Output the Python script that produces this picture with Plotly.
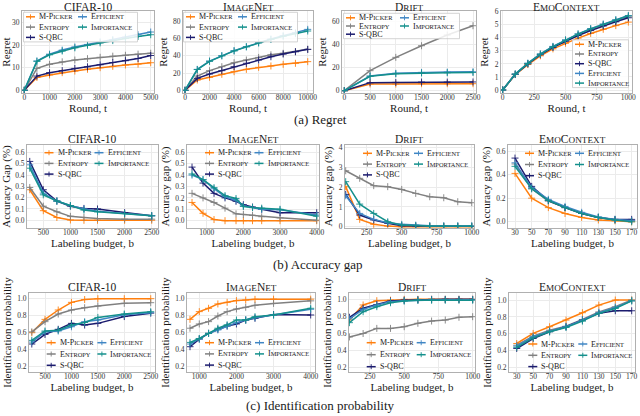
"""Active model selection results: regret, accuracy gap and identification probability."""

import plotly.graph_objects as go

W, H = 640, 416

METHODS = ["M-Picker", "Entropy", "S-QBC", "Efficient", "Importance"]
COLORS = {
    "M-Picker": "#ff7f0e",
    "Entropy": "#808080",
    "S-QBC": "#1b1b6e",
    "Efficient": "#3f86c4",
    "Importance": "#14908c",
}

# ---- (a) Regret ----
cifar_rounds = [0, 500, 1000, 1500, 2000, 2500, 3000, 3500, 4000, 4500, 5000]
cifar_regret_mpicker = [0, 5.7, 6.8, 7.8, 8.5, 9.3, 10.0, 10.6, 11.2, 11.6, 12.2]
cifar_regret_entropy = [0, 9.7, 11.5, 12.6, 13.4, 14.0, 14.6, 15.1, 15.5, 16.0, 16.4]
cifar_regret_sqbc = [0, 6.3, 7.8, 8.7, 9.7, 10.4, 11.3, 12.3, 13.1, 14.1, 15.4]
cifar_regret_efficient = [0, 13.0, 16.0, 17.8, 19.2, 20.3, 21.5, 22.5, 23.5, 24.6, 25.8]
cifar_regret_importance = [0, 12.8, 15.7, 17.4, 18.8, 19.9, 21.0, 22.0, 22.9, 23.8, 24.6]

imagenet_rounds = [0, 1000, 2000, 3000, 4000, 5000, 6000, 7000, 8000, 9000, 10000]
imagenet_regret_mpicker = [0, 11.9, 15.0, 18.5, 21.5, 24.2, 26.5, 28.1, 30.0, 31.2, 33.1]
imagenet_regret_entropy = [0, 16.5, 22.7, 27.3, 31.9, 35.0, 38.0, 41.0, 42.7, 44.6, 47.3]
imagenet_regret_sqbc = [0, 13.8, 18.8, 22.7, 27.3, 31.2, 35.0, 38.8, 41.9, 44.6, 47.3]
imagenet_regret_efficient = [0, 24.2, 33.8, 40.0, 45.8, 50.4, 55.0, 59.2, 63.1, 66.5, 70.4]
imagenet_regret_importance = [0, 24.0, 33.5, 39.8, 45.5, 50.2, 54.7, 58.8, 62.4, 65.5, 68.5]

drift_rounds = [0, 500, 1000, 1500, 2000, 2500]
drift_regret_mpicker = [0, 5.8, 5.8, 6.1, 6.1, 6.1]
drift_regret_entropy = [0, 17.4, 29.0, 39.1, 48.4, 56.5]
drift_regret_sqbc = [0, 7.0, 7.2, 7.5, 7.5, 7.6]
drift_regret_efficient = [0, 12.8, 15.1, 15.9, 16.2, 16.5]
drift_regret_importance = [0, 12.5, 14.7, 15.4, 15.6, 15.8]

emo_rounds = [0, 100, 200, 300, 400, 500, 600, 700, 800, 900, 1000]
emo_regret_mpicker = [0, 1.18, 1.95, 2.62, 3.15, 3.58, 3.97, 4.33, 4.65, 4.93, 5.2]
emo_regret_entropy = [0, 1.21, 2.02, 2.72, 3.28, 3.77, 4.2, 4.6, 4.96, 5.28, 5.6]
emo_regret_sqbc = [0, 1.2, 2.0, 2.7, 3.26, 3.74, 4.17, 4.55, 4.9, 5.22, 5.53]
emo_regret_efficient = [0, 1.22, 2.05, 2.76, 3.34, 3.84, 4.3, 4.7, 5.05, 5.38, 5.7]
emo_regret_importance = [0, 1.22, 2.04, 2.75, 3.32, 3.82, 4.28, 4.68, 5.03, 5.36, 5.68]

# ---- (b) Accuracy gap ----
cifar_budget = [250, 500, 750, 1000, 1250, 1500, 2000, 2500]
cifar_gap_mpicker = [0.27, 0.085, 0.025, 0.003, 0.0, 0.0, 0.0, 0.0]
cifar_gap_entropy = [0.29, 0.125, 0.075, 0.035, 0.025, 0.015, 0.01, 0.01]
cifar_gap_sqbc = [0.52, 0.27, 0.17, 0.125, 0.105, 0.10, 0.068, 0.04]
cifar_gap_efficient = [0.49, 0.24, 0.17, 0.13, 0.10, 0.08, 0.06, 0.04]
cifar_gap_importance = [0.46, 0.225, 0.17, 0.13, 0.09, 0.075, 0.06, 0.04]

imagenet_budget = [600, 900, 1200, 1500, 1800, 2000, 2250, 2500, 3000, 4000]
imagenet_gap_mpicker = [0.16, 0.065, 0.01, 0.0, 0.0, 0.0, 0.0, 0.0, 0.0, 0.0]
imagenet_gap_entropy = [0.24, 0.20, 0.16, 0.11, 0.06, 0.055, 0.047, 0.035, 0.025, 0.005]
imagenet_gap_sqbc = [0.47, 0.33, 0.24, 0.20, 0.17, 0.14, 0.12, 0.10, 0.07, 0.07]
imagenet_gap_efficient = [0.40, 0.36, 0.28, 0.21, 0.18, 0.13, 0.115, 0.10, 0.095, 0.05]
imagenet_gap_importance = [0.41, 0.36, 0.29, 0.22, 0.195, 0.125, 0.115, 0.11, 0.10, 0.04]

drift_budget = [100, 200, 300, 400, 500, 600, 700, 800, 900, 1000]
drift_gap_mpicker = [2.02, 0.37, 0.12, 0.03, 0.0, 0.0, 0.0, 0.0, 0.0, 0.0]
drift_gap_entropy = [2.82, 2.44, 2.07, 2.02, 1.88, 1.68, 1.51, 1.46, 1.26, 1.21]
drift_gap_sqbc = [1.63, 0.59, 0.34, 0.17, 0.05, 0.03, 0.02, 0.02, 0.02, 0.02]
drift_gap_efficient = [1.56, 0.67, 0.37, 0.20, 0.12, 0.08, 0.05, 0.04, 0.04, 0.04]
drift_gap_importance = [2.27, 1.14, 0.67, 0.25, 0.08, 0.05, 0.03, 0.03, 0.03, 0.03]

emo_budget = [30, 50, 70, 90, 110, 130, 150, 170]
emo_gap_mpicker = [0.41, 0.20, 0.12, 0.07, 0.037, 0.015, 0.008, 0.0]
emo_gap_entropy = [0.49, 0.28, 0.175, 0.12, 0.07, 0.037, 0.015, 0.01]
emo_gap_sqbc = [0.54, 0.30, 0.18, 0.12, 0.07, 0.037, 0.02, 0.02]
emo_gap_efficient = [0.50, 0.29, 0.19, 0.13, 0.08, 0.04, 0.02, 0.01]
emo_gap_importance = [0.47, 0.28, 0.18, 0.12, 0.07, 0.037, 0.015, 0.0]

# ---- (c) Identification probability ----
cifar_id_mpicker = [0.60, 0.757, 0.867, 0.957, 0.99, 1.0, 1.0, 1.0]
cifar_id_entropy = [0.61, 0.73, 0.82, 0.867, 0.894, 0.914, 0.945, 0.953]
cifar_id_sqbc = [0.467, 0.58, 0.64, 0.71, 0.69, 0.71, 0.79, 0.83]
cifar_id_efficient = [0.49, 0.61, 0.62, 0.67, 0.73, 0.75, 0.81, 0.835]
cifar_id_importance = [0.51, 0.62, 0.63, 0.69, 0.72, 0.78, 0.82, 0.847]

imagenet_id_budget = [750, 1000, 1250, 1500, 1750, 2000, 2250, 2500, 3000, 4000]
imagenet_id_mpicker = [0.754, 0.844, 0.883, 0.934, 0.953, 0.973, 0.98, 0.988, 0.99, 0.99]
imagenet_id_entropy = [0.65, 0.70, 0.727, 0.793, 0.844, 0.875, 0.895, 0.918, 0.94, 0.97]
imagenet_id_sqbc = [0.434, 0.523, 0.59, 0.637, 0.676, 0.70, 0.746, 0.766, 0.81, 0.805]
imagenet_id_efficient = [0.465, 0.523, 0.59, 0.63, 0.676, 0.715, 0.746, 0.773, 0.805, 0.871]
imagenet_id_importance = [0.484, 0.53, 0.59, 0.65, 0.69, 0.746, 0.746, 0.785, 0.805, 0.883]

drift_id_mpicker = [0.758, 0.934, 0.984, 0.99, 1.0, 1.0, 1.0, 1.0, 1.0, 1.0]
drift_id_entropy = [0.56, 0.60, 0.66, 0.66, 0.68, 0.72, 0.746, 0.758, 0.79, 0.797]
drift_id_sqbc = [0.79, 0.895, 0.94, 0.98, 0.99, 0.995, 1.0, 1.0, 1.0, 1.0]
drift_id_efficient = [0.77, 0.883, 0.934, 0.973, 0.984, 0.99, 0.995, 0.995, 0.995, 0.995]
drift_id_importance = [0.727, 0.855, 0.914, 0.96, 0.98, 0.99, 0.99, 0.99, 0.99, 0.99]

emo_id_mpicker = [0.486, 0.605, 0.684, 0.763, 0.85, 0.94, 1.0, 1.0]
emo_id_entropy = [0.466, 0.573, 0.644, 0.69, 0.77, 0.86, 0.92, 1.0]
emo_id_sqbc = [0.427, 0.545, 0.625, 0.684, 0.763, 0.842, 0.873, 0.873]
emo_id_efficient = [0.455, 0.565, 0.632, 0.684, 0.763, 0.85, 0.913, 0.99]
emo_id_importance = [0.44, 0.553, 0.625, 0.676, 0.75, 0.842, 0.90, 0.99]

FONT = "Liberation Serif, Times New Roman, DejaVu Serif, serif"
GRID = "#ebebeb"
SPINE = "#b0b0b0"


def sc(text, small):
    """Fake small caps: runs of lowercase letters become smaller capitals."""
    out, run = [], ""
    for ch in text:
        if ch.islower():
            run += ch.upper()
            continue
        if run:
            out.append(f"<span style='font-size:{small}px'>{run}</span>")
            run = ""
        out.append(ch)
    if run:
        out.append(f"<span style='font-size:{small}px'>{run}</span>")
    return "".join(out)


def series(mp, en, sq, ef, im):
    return dict(zip(METHODS, [mp, en, sq, ef, im]))


# pixel boxes (left, top, right, bottom) of each panel and its legend anchor
panels = [
    dict(x=cifar_rounds, ys=series(cifar_regret_mpicker, cifar_regret_entropy, cifar_regret_sqbc,
                                   cifar_regret_efficient, cifar_regret_importance),
         title="CIFAR-10", box=(22, 11, 154, 93), xr=[-90, 5130], yr=[-1.2, 35.1],
         xt=[0, 1000, 2000, 3000, 4000, 5000], yt=[0, 10, 20, 30], fmt="d",
         xlab="Round, t", ylab="Regret", leg=(26, 16.8, 10.3, 52, True)),
    dict(x=imagenet_rounds, ys=series(imagenet_regret_mpicker, imagenet_regret_entropy, imagenet_regret_sqbc,
                                      imagenet_regret_efficient, imagenet_regret_importance),
         title="ImageNet", box=(183, 11, 313, 93), xr=[-163, 10430], yr=[-3.1, 91.6],
         xt=[0, 2000, 4000, 6000, 8000, 10000], yt=[0, 20, 40, 60, 80], fmt="d",
         xlab="Round, t", ylab="Regret", leg=(186, 16.8, 10.3, 52, True)),
    dict(x=drift_rounds, ys=series(drift_regret_mpicker, drift_regret_entropy, drift_regret_sqbc,
                                   drift_regret_efficient, drift_regret_importance),
         title="Drift", box=(342, 11, 476, 93), xr=[-45, 2558], yr=[-2, 69.3],
         xt=[0, 500, 1000, 1500, 2000, 2500], yt=[0, 20, 40, 60], fmt="d",
         xlab="Round, t", ylab="Regret", leg=(346, 17.8, 8.2, 54, True)),
    dict(x=emo_rounds, ys=series(emo_regret_mpicker, emo_regret_entropy, emo_regret_sqbc,
                                 emo_regret_efficient, emo_regret_importance),
         title="EmoContext", box=(501, 11, 632, 93), xr=[-13.5, 1029], yr=[-0.23, 6.05],
         xt=[0, 250, 500, 750, 1000], yt=[0, 1, 2, 3, 4, 5, 6], fmt="d",
         xlab="Round, t", ylab="Regret", leg=(575, 44.3, 9.7, 0, True)),
    dict(x=cifar_budget, ys=series(cifar_gap_mpicker, cifar_gap_entropy, cifar_gap_sqbc,
                                   cifar_gap_efficient, cifar_gap_importance),
         title="CIFAR-10", box=(27, 145, 158, 228), xr=[199, 2616], yr=[-0.068, 0.665],
         xt=[500, 1000, 1500, 2000, 2500], yt=[0, 0.1, 0.2, 0.3, 0.4, 0.5, 0.6], fmt=".1f",
         xlab="Labeling budget, b", ylab="Accuracy Gap (%)", leg=(44.5, 152.7, 10.7, 50, False)),
    dict(x=imagenet_budget, ys=series(imagenet_gap_mpicker, imagenet_gap_entropy, imagenet_gap_sqbc,
                                      imagenet_gap_efficient, imagenet_gap_importance),
         title="ImageNet", box=(187, 145, 319, 228), xr=[463, 4063], yr=[-0.064, 0.664],
         xt=[1000, 2000, 3000, 4000], yt=[0, 0.1, 0.2, 0.3, 0.4, 0.5, 0.6], fmt=".1f",
         xlab="Labeling budget, b", ylab="Accuracy gap (%)", leg=(205, 152.7, 10.7, 49.5, False)),
    dict(x=drift_budget, ys=series(drift_gap_mpicker, drift_gap_entropy, drift_gap_sqbc,
                                   drift_gap_efficient, drift_gap_importance),
         title="Drift", box=(345, 145, 474, 228), xr=[95, 1016], yr=[-0.065, 4.12],
         xt=[250, 500, 750, 1000], yt=[0, 1, 2, 3, 4], fmt="d",
         xlab="Labeling budget, b", ylab="Accuracy gap (%)", leg=(363, 153.3, 10.8, 51, False)),
    dict(x=emo_budget, ys=series(emo_gap_mpicker, emo_gap_entropy, emo_gap_sqbc,
                                 emo_gap_efficient, emo_gap_importance),
         title="EmoContext", box=(508, 145, 637, 228), xr=[21.6, 176.4], yr=[-0.053, 0.651],
         xt=[30, 50, 70, 90, 110, 130, 150, 170], yt=[0, 0.2, 0.4, 0.6], fmt=".1f",
         xlab="Labeling budget, b", ylab="Accuracy gap (%)", leg=(525, 153.3, 11.2, 50, False)),
    dict(x=cifar_budget, ys=series(cifar_id_mpicker, cifar_id_entropy, cifar_id_sqbc,
                                   cifar_id_efficient, cifar_id_importance),
         title="CIFAR-10", box=(29, 293, 155, 372), xr=[197, 2581], yr=[0.138, 1.067],
         xt=[500, 1000, 1500, 2000, 2500], yt=[0.2, 0.4, 0.6, 0.8, 1.0], fmt=".1f",
         xlab="Labeling budget, b", ylab="Identification probability", leg=(46.7, 342.7, 11.3, 50.7, False)),
    dict(x=imagenet_id_budget, ys=series(imagenet_id_mpicker, imagenet_id_entropy, imagenet_id_sqbc,
                                         imagenet_id_efficient, imagenet_id_importance),
         title="ImageNet", box=(187, 293, 315, 372), xr=[669, 4116], yr=[0.138, 1.062],
         xt=[1000, 2000, 3000, 4000], yt=[0.2, 0.4, 0.6, 0.8, 1.0], fmt=".1f",
         xlab="Labeling budget, b", ylab="Identification probability", leg=(205, 342.7, 11.2, 50, False)),
    dict(x=drift_budget, ys=series(drift_id_mpicker, drift_id_entropy, drift_id_sqbc,
                                   drift_id_efficient, drift_id_importance),
         title="Drift", box=(349, 293, 475, 372), xr=[97, 1017], yr=[0.15, 1.074],
         xt=[250, 500, 750, 1000], yt=[0.2, 0.4, 0.6, 0.8, 1.0], fmt=".1f",
         xlab="Labeling budget, b", ylab="Identification probability", leg=(366.7, 342.7, 12, 50, False)),
    dict(x=emo_budget, ys=series(emo_id_mpicker, emo_id_entropy, emo_id_sqbc,
                                 emo_id_efficient, emo_id_importance),
         title="EmoContext", box=(509, 293, 635, 372), xr=[20.6, 174], yr=[0.149, 1.083],
         xt=[30, 50, 70, 90, 110, 130, 150, 170], yt=[0.2, 0.4, 0.6, 0.8, 1.0], fmt=".1f",
         xlab="Labeling budget, b", ylab="Identification probability", leg=(528.3, 344, 11.3, 50, False)),
]

captions = [("(a) Regret", 320, 119), ("(b) Accuracy gap", 318, 264),
            ("(c) Identification probability", 320, 405)]


def px(x):
    return x / W


def py(y):
    return 1 - y / H


fig = go.Figure()
layout = dict(
    width=W, height=H, margin=dict(l=0, r=0, t=0, b=0, autoexpand=False),
    paper_bgcolor="white", plot_bgcolor="white", showlegend=False,
    font=dict(family=FONT, size=11, color="#1a1a1a"),
)
shapes, annotations = [], []

for i, p in enumerate(panels, start=1):
    suffix = "" if i == 1 else str(i)
    left, top, right, bottom = p["box"]
    for name in METHODS:
        color = COLORS[name]
        fig.add_trace(go.Scatter(
            x=p["x"], y=p["ys"][name], mode="lines+markers", name=name,
            xaxis=f"x{suffix}", yaxis=f"y{suffix}",
            line=dict(color=color, width=1.5),
            marker=dict(symbol="cross-thin", size=5, line=dict(color=color, width=0.9)),
        ))
    axis = dict(showgrid=True, gridcolor=GRID, gridwidth=0.8, zeroline=False,
                showline=True, mirror=True, linecolor=SPINE, linewidth=0.8, ticks="",
                automargin=False, tickfont=dict(family=FONT, size=7.5, color="#333333"))
    layout[f"xaxis{suffix}"] = dict(
        axis, domain=[px(left), px(right)], range=p["xr"], tickvals=p["xt"],
        tickformat="d", anchor=f"y{suffix}", ticklabelstandoff=-3,
        title=dict(text=p["xlab"], font=dict(family=FONT, size=11), standoff=0))
    layout[f"yaxis{suffix}"] = dict(
        axis, domain=[py(bottom), py(top)], range=p["yr"], tickvals=p["yt"],
        tickformat=p["fmt"], anchor=f"x{suffix}",
        title=dict(text=p["ylab"], font=dict(family=FONT, size=11), standoff=3))

    # panel title
    annotations.append(dict(
        text=sc(p["title"], 9.2), x=px((left + right) / 2), y=py(max(top - 6, 6.6)),
        xref="paper", yref="paper", showarrow=False, xanchor="center", yanchor="middle",
        borderpad=0, font=dict(family=FONT, size=11.5)))

    # compact legend drawn next to the curves
    gx, gy, dy, dx2, framed = p["leg"]
    if dx2:
        slots = [(0, 0), (0, 1), (0, 2), (1, 0), (1, 1)]
        bw = dx2 + 62
        bh = 2 * dy + 9
    else:
        slots = [(0, k) for k in range(5)]
        bw = 56
        bh = 4 * dy + 9
    if framed:
        shapes.append(dict(type="rect", xref="paper", yref="paper", layer="above",
                           x0=px(gx - 2.5), x1=px(gx - 2.5 + bw), y0=py(gy - 4.5), y1=py(gy - 4.5 + bh),
                           line=dict(color="#c8c8c8", width=0.8), fillcolor="rgba(255,255,255,0.85)"))
    for name, (col, row) in zip(METHODS, slots):
        x0 = gx + col * dx2
        y0 = gy + row * dy
        color = COLORS[name]
        shapes.append(dict(type="line", xref="paper", yref="paper", layer="above",
                           x0=px(x0), x1=px(x0 + 9), y0=py(y0), y1=py(y0),
                           line=dict(color=color, width=1.5)))
        shapes.append(dict(type="line", xref="paper", yref="paper", layer="above",
                           x0=px(x0 + 4.5), x1=px(x0 + 4.5), y0=py(y0 - 2.5), y1=py(y0 + 2.5),
                           line=dict(color=color, width=0.9)))
        annotations.append(dict(
            text=sc(name, 6.4), x=px(x0 + 12), y=py(y0), xref="paper", yref="paper",
            showarrow=False, xanchor="left", yanchor="middle", borderpad=0,
            font=dict(family=FONT, size=8)))

for text, cx, cy in captions:
    annotations.append(dict(text=text, x=px(cx), y=py(cy), xref="paper", yref="paper",
                            showarrow=False, xanchor="center", yanchor="middle",
                            font=dict(family=FONT, size=13)))

layout["shapes"] = shapes
layout["annotations"] = annotations
fig.update_layout(**layout)

# the page's default 8px body margin would shift the 640x416 figure off the window
fig.write_html("out.html", config={"displayModeBar": False},
               post_script="document.body.style.margin = '0';")
